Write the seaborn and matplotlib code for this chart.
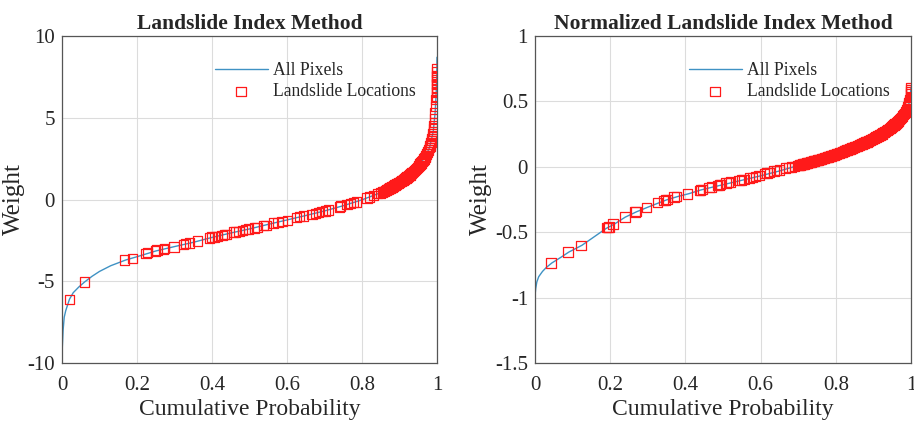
import matplotlib.pyplot as plt
import seaborn as sns

sns.set_style('white')
plt.rcParams['font.family'] = ['Liberation Serif', 'DejaVu Serif']

# ---- Landslide Index Method (LI) ----
li_line_x = [0, 0.001, 0.003, 0.006, 0.01, 0.02, 0.03, 0.045, 0.06, 0.08, 0.1, 0.13,
             0.17, 0.2, 0.25, 0.3, 0.35, 0.4, 0.45, 0.5, 0.55, 0.6, 0.65, 0.7, 0.75,
             0.8, 0.85, 0.9, 0.93, 0.95, 0.97, 0.98, 0.99, 0.995, 0.998, 0.9995, 1.0]
li_line_y = [-9.8, -9.0, -8.0, -7.2, -6.8, -6.1, -5.7, -5.35, -5.05, -4.7, -4.4, -4.05,
             -3.7, -3.5, -3.15, -2.88, -2.62, -2.32, -2.05, -1.8, -1.52, -1.25, -0.98, -0.7, -0.38,
             -0.02, 0.42, 1.05, 1.56, 2.02, 2.67, 3.17, 4.15, 5.3, 6.6, 7.6, 8.7]

# landslide cells, sparse part
li_sparse_x = [0.02, 0.06, 0.167, 0.188, 0.224, 0.228, 0.249, 0.253, 0.271, 0.274, 0.299,
               0.324, 0.329, 0.34, 0.362, 0.393, 0.399, 0.406, 0.415, 0.427, 0.433, 0.438,
               0.458, 0.463, 0.472, 0.481, 0.489, 0.498, 0.513, 0.52, 0.538, 0.544,
               0.564, 0.576, 0.587, 0.602, 0.625, 0.634, 0.644, 0.667, 0.676, 0.684, 0.693,
               0.702, 0.711, 0.74, 0.742, 0.76, 0.769, 0.778, 0.785, 0.813, 0.82, 0.831,
               0.842, 0.849]
li_sparse_y = [-6.1, -5.05, -3.7, -3.6, -3.3, -3.25, -3.15, -3.1, -3.05, -3.0, -2.9,
               -2.75, -2.7, -2.65, -2.55, -2.35, -2.3, -2.3, -2.25, -2.2, -2.15, -2.15,
               -2.0, -2.0, -1.95, -1.9, -1.85, -1.8, -1.75, -1.7, -1.6, -1.6,
               -1.45, -1.4, -1.35, -1.3, -1.1, -1.05, -1.0, -0.9, -0.85, -0.8, -0.75,
               -0.7, -0.65, -0.45, -0.4, -0.3, -0.25, -0.2, -0.15, 0.1, 0.15, 0.25,
               0.35, 0.4]
# landslide cells, dense tail
li_dense_x = [0.855, 0.8575, 0.86, 0.8625, 0.865, 0.8675, 0.87, 0.8725, 0.875, 0.8775,
              0.88, 0.8825, 0.885, 0.8875, 0.89, 0.8925, 0.895, 0.8975, 0.9, 0.9025,
              0.905, 0.9075, 0.91, 0.9125, 0.915, 0.9175, 0.92, 0.9225, 0.925, 0.9275,
              0.93, 0.9325, 0.935, 0.9375, 0.94, 0.9425, 0.945, 0.9475, 0.95, 0.9525,
              0.955, 0.9575, 0.96, 0.9625, 0.965, 0.9675, 0.97, 0.9725, 0.975, 0.9775,
              0.98, 0.9815, 0.983, 0.9845, 0.986, 0.987, 0.988, 0.989, 0.99, 0.991,
              0.992, 0.993, 0.994, 0.995, 0.996, 0.997, 0.998, 0.999, 0.9995,
              1.0, 1.0, 1.0, 1.0, 1.0, 1.0, 1.0, 1.0]
li_dense_y = [0.45, 0.475, 0.5, 0.535, 0.57, 0.605, 0.64, 0.67, 0.7, 0.735,
              0.77, 0.805, 0.84, 0.875, 0.91, 0.945, 0.98, 1.015, 1.05, 1.085,
              1.12, 1.16, 1.2, 1.24, 1.28, 1.325, 1.37, 1.415, 1.46, 1.51,
              1.56, 1.61, 1.66, 1.715, 1.77, 1.83, 1.89, 1.955, 2.02, 2.09,
              2.16, 2.235, 2.31, 2.395, 2.48, 2.575, 2.67, 2.78, 2.9, 3.03,
              3.17, 3.27, 3.38, 3.5, 3.62, 3.73, 3.85, 4.0, 4.15, 4.32,
              4.5, 4.72, 4.95, 5.3, 5.7, 6.1, 6.6, 7.1, 7.5,
              6.3, 6.55, 6.8, 7.05, 7.3, 7.55, 7.8, 8.0]

# ---- Normalized Landslide Index Method (NLI) ----
nli_line_x = [0, 0.002, 0.005, 0.01, 0.02, 0.03, 0.045, 0.07, 0.09, 0.125, 0.16, 0.19,
              0.21, 0.24, 0.27, 0.3, 0.33, 0.35, 0.38, 0.41, 0.44, 0.47, 0.5, 0.55, 0.6,
              0.65, 0.7, 0.75, 0.8, 0.85, 0.9, 0.93, 0.95, 0.97, 0.98, 0.99, 0.995, 0.998, 1.0]
nli_line_y = [-0.99, -0.93, -0.88, -0.84, -0.80, -0.77, -0.735, -0.69, -0.652, -0.60, -0.53,
              -0.47, -0.44, -0.385, -0.344, -0.309, -0.275, -0.253, -0.227, -0.205, -0.178,
              -0.157, -0.137, -0.103, -0.069, -0.032, 0.010, 0.050, 0.095, 0.151, 0.216,
              0.266, 0.308, 0.362, 0.398, 0.447, 0.487, 0.530, 0.61]

nli_sparse_x = [0.043, 0.088, 0.122, 0.19, 0.194, 0.197, 0.207, 0.24, 0.266, 0.269, 0.296,
                0.326, 0.342, 0.347, 0.352, 0.37, 0.377, 0.405, 0.437, 0.441, 0.445, 0.463,
                0.469, 0.485, 0.49, 0.494, 0.508, 0.514, 0.52, 0.543, 0.549, 0.556, 0.57,
                0.579, 0.587, 0.596, 0.61, 0.617, 0.623, 0.636, 0.643, 0.65, 0.667, 0.675,
                0.683, 0.69]
nli_sparse_y = [-0.736, -0.652, -0.601, -0.466, -0.466, -0.46, -0.438, -0.385, -0.344, -0.342,
                -0.309, -0.275, -0.258, -0.253, -0.25, -0.23, -0.226, -0.207, -0.18, -0.178,
                -0.175, -0.16, -0.156, -0.143, -0.14, -0.137, -0.125, -0.12, -0.116, -0.103,
                -0.1, -0.096, -0.085, -0.08, -0.073, -0.068, -0.05, -0.046, -0.043, -0.031,
                -0.028, -0.025, -0.008, -0.004, 0.0, 0.004]
nli_dense_x = [0.7, 0.7025, 0.705, 0.7075, 0.71, 0.7125, 0.715, 0.7175, 0.72, 0.7225,
               0.725, 0.7275, 0.73, 0.7325, 0.735, 0.7375, 0.74, 0.7425, 0.745, 0.7475,
               0.75, 0.7525, 0.755, 0.7575, 0.76, 0.7625, 0.765, 0.7675, 0.77, 0.7725,
               0.775, 0.7775, 0.78, 0.7825, 0.785, 0.7875, 0.79, 0.7925, 0.795, 0.7975,
               0.8, 0.8025, 0.805, 0.8075, 0.81, 0.8125, 0.815, 0.8175, 0.82, 0.8225,
               0.825, 0.8275, 0.83, 0.8325, 0.835, 0.8375, 0.84, 0.8425, 0.845, 0.8475,
               0.85, 0.8525, 0.855, 0.8575, 0.86, 0.8625, 0.865, 0.8675, 0.87, 0.8725,
               0.875, 0.8775, 0.88, 0.8825, 0.885, 0.8875, 0.89, 0.8925, 0.895, 0.8975,
               0.9, 0.9025, 0.905, 0.9075, 0.91, 0.9125, 0.915, 0.9175, 0.92, 0.9225,
               0.925, 0.9275, 0.93, 0.9325, 0.935, 0.9375, 0.94, 0.9425, 0.945, 0.9475,
               0.95, 0.9525, 0.955, 0.9575, 0.96, 0.9625, 0.965, 0.9675, 0.97, 0.9725,
               0.975, 0.9775, 0.98, 0.9825, 0.985, 0.9875, 0.99,
               0.9915, 0.993, 0.994, 0.995, 0.996, 0.997, 0.998, 0.999, 1.0, 1.0, 1.0]
nli_dense_y = [0.010, 0.012, 0.014, 0.016, 0.018, 0.020, 0.022, 0.024, 0.026, 0.028,
               0.030, 0.032, 0.034, 0.036, 0.038, 0.040, 0.042, 0.044, 0.046, 0.048,
               0.050, 0.052, 0.054, 0.056, 0.058, 0.060, 0.062, 0.065, 0.067, 0.069,
               0.071, 0.074, 0.076, 0.078, 0.080, 0.083, 0.085, 0.088, 0.090, 0.093,
               0.095, 0.098, 0.100, 0.103, 0.106, 0.109, 0.111, 0.114, 0.117, 0.120,
               0.123, 0.126, 0.128, 0.131, 0.134, 0.137, 0.140, 0.143, 0.145, 0.148,
               0.151, 0.154, 0.157, 0.160, 0.163, 0.166, 0.169, 0.172, 0.175, 0.178,
               0.182, 0.185, 0.188, 0.191, 0.195, 0.198, 0.202, 0.205, 0.209, 0.212,
               0.216, 0.220, 0.224, 0.228, 0.232, 0.236, 0.240, 0.244, 0.248, 0.252,
               0.257, 0.261, 0.266, 0.271, 0.276, 0.281, 0.286, 0.291, 0.297, 0.302,
               0.308, 0.314, 0.320, 0.326, 0.333, 0.340, 0.347, 0.354, 0.362, 0.370,
               0.379, 0.388, 0.398, 0.409, 0.420, 0.433, 0.447,
               0.457, 0.468, 0.477, 0.487, 0.499, 0.512, 0.530, 0.555, 0.575, 0.590, 0.605]

panels = [
    ('Landslide Index Method', li_line_x, li_line_y,
     li_sparse_x + li_dense_x, li_sparse_y + li_dense_y,
     (-10, 10), [-10, -5, 0, 5, 10], ['-10', '-5', '0', '5', '10']),
    ('Normalized Landslide Index Method', nli_line_x, nli_line_y,
     nli_sparse_x + nli_dense_x, nli_sparse_y + nli_dense_y,
     (-1.5, 1), [-1.5, -1, -0.5, 0, 0.5, 1], ['-1.5', '-1', '-0.5', '0', '0.5', '1']),
]

fig = plt.figure(figsize=(9.14, 4.22), dpi=100)
axes = [fig.add_axes([0.0678, 0.1398, 0.4103, 0.7749]),
        fig.add_axes([0.5853, 0.1398, 0.4114, 0.7749])]

for ax, (title, lx, ly, px, py, ylim, yt, ytl) in zip(axes, panels):
    sns.lineplot(x=lx, y=ly, ax=ax, color='#3f92c4', linewidth=1.0,
                 estimator=None, sort=False, label='All Pixels')
    sns.scatterplot(x=px, y=py, ax=ax, marker='s', s=46, fc='none',
                    ec='#ff1a1a', linewidth=0.9, label='Landslide Locations', zorder=3)
    ax.set_xlim(0, 1)
    ax.set_ylim(*ylim)
    ax.set_xticks([0, 0.2, 0.4, 0.6, 0.8, 1])
    ax.set_xticklabels(['0', '0.2', '0.4', '0.6', '0.8', '1'])
    ax.set_yticks(yt)
    ax.set_yticklabels(ytl)
    ax.grid(True, color='#dcdcdc', linewidth=0.8)
    ax.tick_params(labelsize=15, direction='in', length=3, color='#555555')
    ax.tick_params(axis='x', pad=9)
    ax.tick_params(axis='y', pad=5)
    for sp in ax.spines.values():
        sp.set_color('#555555')
        sp.set_linewidth(0.9)
    ax.set_title(title, fontsize=15.5, fontweight='bold', pad=5)
    ax.set_xlabel('Cumulative Probability', fontsize=17, labelpad=3)
    ax.set_ylabel('Weight', fontsize=18, labelpad=2)
    ax.legend(loc='upper right', frameon=False, fontsize=12.7, handlelength=3,
              handletextpad=0.3, borderaxespad=0.6, labelspacing=0.25,
              bbox_to_anchor=(0.99, 0.975))

plt.savefig('out.png', dpi=100)
